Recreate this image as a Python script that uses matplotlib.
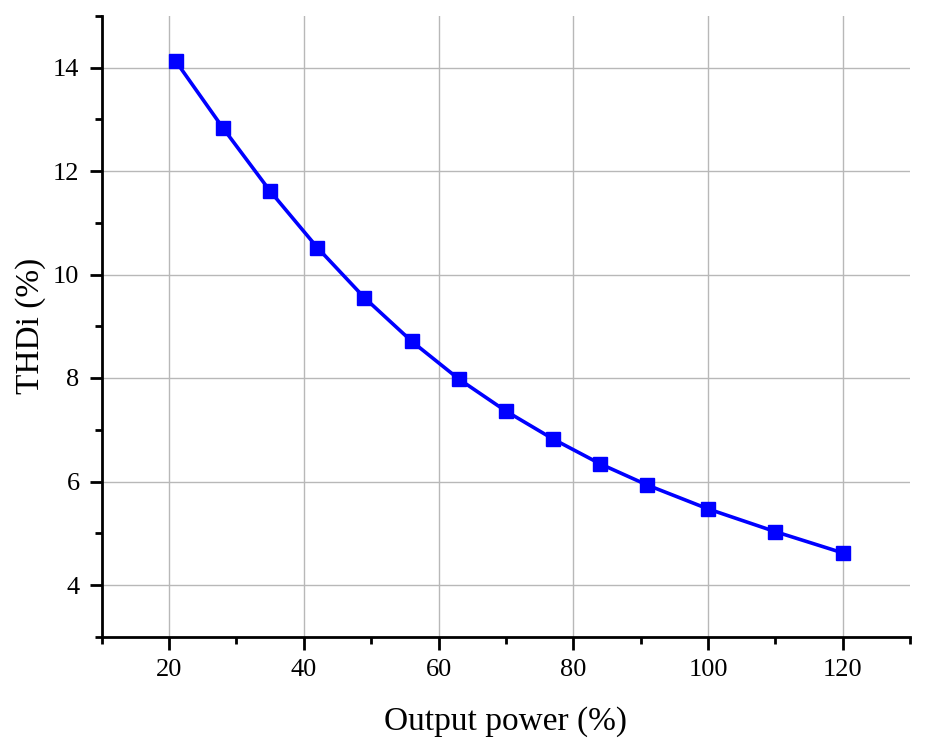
import numpy as np
import matplotlib
matplotlib.use('Agg')
import matplotlib.pyplot as plt
from matplotlib.ticker import MultipleLocator

plt.rcParams['font.family'] = ['Liberation Serif', 'DejaVu Serif']

power = [21, 28, 35, 42, 49, 56, 63, 70, 77, 84, 91, 100, 110, 120]
thdi = [14.12, 12.83, 11.61, 10.52, 9.55, 8.71, 7.98, 7.36, 6.82, 6.34, 5.93, 5.47, 5.03, 4.62]

fig = plt.figure(figsize=(9.25, 7.5), dpi=100)
ax = fig.add_axes([0.110, 0.151, 0.874, 0.828])

ax.plot(power, thdi, color='#0000ff', lw=2.6, marker='s', ms=10.5, zorder=3)

ax.set_xlim(10, 130)
ax.set_ylim(3, 15)
ax.xaxis.set_major_locator(MultipleLocator(20))
ax.xaxis.set_minor_locator(MultipleLocator(10))
ax.yaxis.set_major_locator(MultipleLocator(2))
ax.yaxis.set_minor_locator(MultipleLocator(1))

ax.grid(True, which='major', color='#b8b8b8', lw=1)
ax.set_axisbelow(True)
for s in ['top', 'right']:
    ax.spines[s].set_visible(False)
for s in ['left', 'bottom']:
    ax.spines[s].set_linewidth(2)

ax.tick_params(which='major', direction='out', length=9, width=2, labelsize=19, pad=7)
ax.tick_params(which='minor', direction='out', length=5, width=2)

ax.set_xlabel('Output power (%)', fontsize=24, labelpad=18)
ax.set_ylabel('THDi (%)', fontsize=24, labelpad=5)

fig.savefig('out.png', dpi=100)
